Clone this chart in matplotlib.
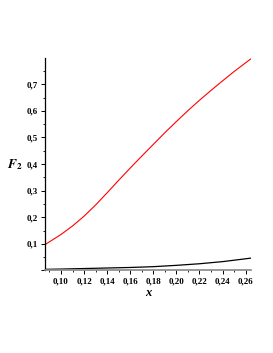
import numpy as np
import matplotlib
matplotlib.use("Agg")
import matplotlib.pyplot as plt
from matplotlib.ticker import MultipleLocator, FuncFormatter

# values
x_red = [0.0862, 0.10, 0.11, 0.12, 0.13, 0.14, 0.15, 0.16, 0.17, 0.18,
         0.19, 0.20, 0.21, 0.22, 0.23, 0.24, 0.25, 0.26, 0.2643]
f_red = [0.097, 0.135, 0.167, 0.204, 0.246, 0.292, 0.339, 0.385, 0.430, 0.474,
         0.518, 0.560, 0.601, 0.640, 0.677, 0.713, 0.748, 0.781, 0.795]
x_blk = [0.0862, 0.10, 0.12, 0.14, 0.16, 0.18, 0.20, 0.22, 0.24, 0.2643]
f_blk = [0.004, 0.005, 0.007, 0.009, 0.011, 0.014, 0.019, 0.025, 0.033, 0.046]

plt.rcParams['font.family'] = ['Liberation Serif', 'DejaVu Serif']
plt.rcParams['mathtext.fontset'] = 'stix'

fig = plt.figure(figsize=(2.73, 3.53), dpi=100)
ax = fig.add_axes([0.165, 0.234, 0.753, 0.601])
ax.plot(x_red, f_red, color='red', lw=0.8)
ax.plot(x_blk, f_blk, color='black', lw=0.9)

ax.set_xlim(0.0862, 0.2643)
ax.set_ylim(0, 0.798)
for s in ['top', 'right']:
    ax.spines[s].set_visible(False)
ax.spines['left'].set_linewidth(0.9)
ax.spines['bottom'].set_linewidth(1.2)
ax.spines['bottom'].set_color('#888888')

ax.xaxis.set_major_locator(MultipleLocator(0.02))
ax.xaxis.set_minor_locator(MultipleLocator(0.01))
ax.yaxis.set_major_locator(MultipleLocator(0.1))
ax.yaxis.set_minor_locator(MultipleLocator(0.05))
ax.xaxis.set_major_formatter(FuncFormatter(lambda v, p: ('%.2f' % v).replace('.', ',')))
ax.yaxis.set_major_formatter(FuncFormatter(lambda v, p: '' if v < 0.05 else ('%.1f' % v).replace('.', ',')))
ax.tick_params(which='major', length=3, width=0.7, labelsize=6.5, pad=2)
ax.tick_params(which='minor', length=1.5, width=0.6)
for lab in ax.get_xticklabels() + ax.get_yticklabels():
    lab.set_fontweight('bold')

ax.set_xlabel('x', fontsize=9, fontweight='bold', fontstyle='italic', labelpad=1)
ax.set_ylabel(r'$\mathbfit{F}_{\mathbf{2}}$', fontsize=9.5, rotation=0,
              ha='center', va='center')
ax.yaxis.set_label_coords(-0.145, 0.50)

fig.savefig('out.png', dpi=100)
